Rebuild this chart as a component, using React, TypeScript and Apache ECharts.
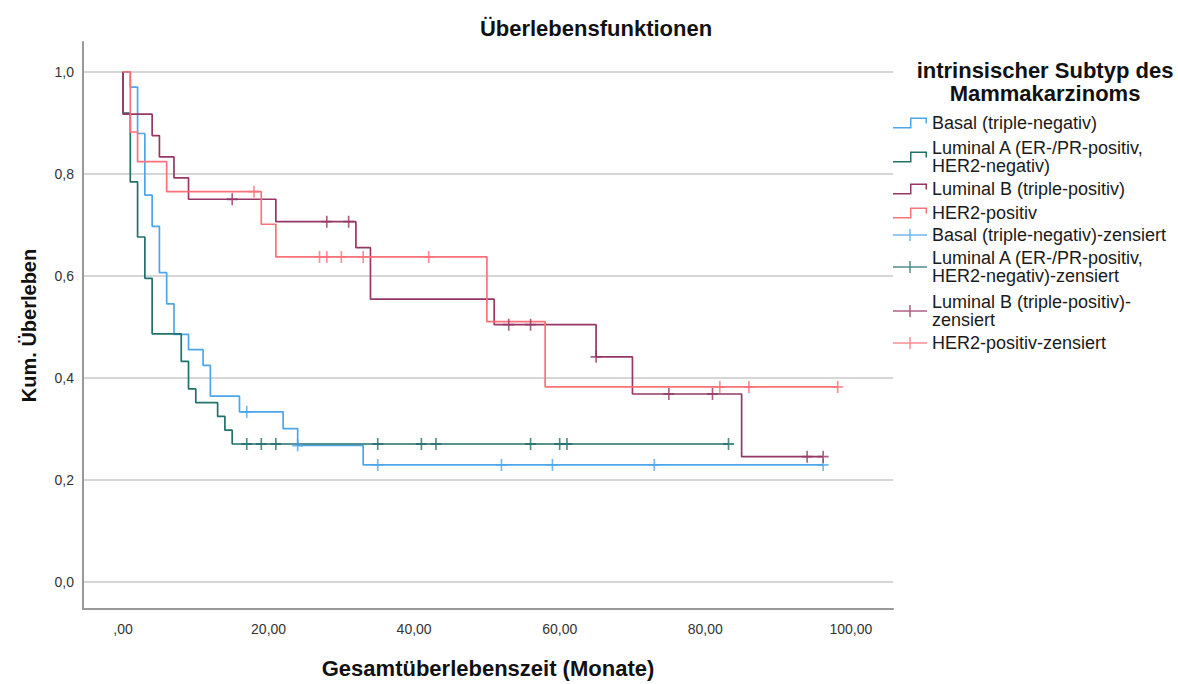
import { useEffect, useRef } from 'react';
import * as echarts from 'echarts';

// ---- data (Kaplan-Meier step values) ----
const seriesNames = [
  'Basal (triple-negativ)',
  'Luminal A (ER-/PR-positiv,\nHER2-negativ)',
  'Luminal B (triple-positiv)',
  'HER2-positiv',
];
const censorNames = [
  'Basal (triple-negativ)-zensiert',
  'Luminal A (ER-/PR-positiv,\nHER2-negativ)-zensiert',
  'Luminal B (triple-positiv)-\nzensiert',
  'HER2-positiv-zensiert',
];

const basalTimes = [0, 1, 2, 3, 4, 5, 6, 7, 9, 11, 12, 16, 22, 24, 33, 96.2];
const basalSurv = [1.0, 0.97, 0.879, 0.758, 0.697, 0.606, 0.545, 0.485, 0.455, 0.424, 0.364, 0.333, 0.3, 0.267, 0.229, 0.229];
const basalCensTimes = [17, 24, 35, 52, 59, 73, 96.2];
const basalCensSurv = [0.333, 0.267, 0.229, 0.229, 0.229, 0.229, 0.229];

const lumATimes = [0, 0, 1, 2, 3, 4, 8, 9, 10, 13, 14, 15, 83.2];
const lumASurv = [1.0, 0.919, 0.784, 0.676, 0.595, 0.486, 0.432, 0.378, 0.351, 0.324, 0.297, 0.27, 0.27];
const lumACensTimes = [17, 19, 21, 35, 41, 43, 56, 60, 61, 83.2];
const lumACensSurv = [0.27, 0.27, 0.27, 0.27, 0.27, 0.27, 0.27, 0.27, 0.27, 0.27];

const lumBTimes = [0, 0, 4, 5, 7, 9, 21, 32, 34, 51, 65, 70, 85, 96.2];
const lumBSurv = [1.0, 0.917, 0.875, 0.833, 0.792, 0.75, 0.706, 0.655, 0.554, 0.504, 0.441, 0.368, 0.245, 0.245];
const lumBCensTimes = [15, 28, 31, 53, 56, 65, 75, 81, 94, 96.2];
const lumBCensSurv = [0.75, 0.706, 0.706, 0.504, 0.504, 0.441, 0.368, 0.368, 0.245, 0.245];

const her2Times = [0, 1, 2, 6, 19, 21, 50, 58, 98.2];
const her2Surv = [1.0, 0.882, 0.824, 0.765, 0.701, 0.637, 0.51, 0.382, 0.382];
const her2CensTimes = [18, 27, 28, 30, 33, 42, 82, 86, 98.2];
const her2CensSurv = [0.765, 0.637, 0.637, 0.637, 0.637, 0.637, 0.382, 0.382, 0.382];

const xTicks = [0, 20, 40, 60, 80, 100];
const yTicks = [0, 0.2, 0.4, 0.6, 0.8, 1.0];

const colors = ['#4ea6ea', '#22706a', '#973766', '#fb727a'];

const FONT = '"Liberation Sans", Arial, sans-serif';
const STEP_ICON = 'path://M0,9.5H17V0H34V6H32.5V1.5H18.5V11H0Z';
const CROSS_ICON = 'path://M0,5.25H34V6.75H0Z M16.25,0H17.75V12H16.25Z';
const CROSS_MARK = 'path://M0,4.25H10V5.75H0Z M4.25,0H5.75V10H4.25Z';

const lineData = [
  [basalTimes, basalSurv],
  [lumATimes, lumASurv],
  [lumBTimes, lumBSurv],
  [her2Times, her2Surv],
];
const censData = [
  [basalCensTimes, basalCensSurv],
  [lumACensTimes, lumACensSurv],
  [lumBCensTimes, lumBCensSurv],
  [her2CensTimes, her2CensSurv],
];

// legend rows: top positions
const lineLegendTops = [114, 139, 180, 204];
const censLegendTops = [226, 249, 293, 334];

function fmtX(v: number) {
  if (v === 0) return ',00';
  return v.toFixed(2).replace('.', ',');
}
function fmtY(v: number) {
  return v.toFixed(1).replace('.', ',');
}

export default function App() {
  const ref = useRef<HTMLDivElement>(null);
  useEffect(() => {
    const chart = echarts.init(ref.current!, undefined, { renderer: 'svg' });
    const series: any[] = [];
    lineData.forEach(([t, s], i) => {
      series.push({
        name: seriesNames[i],
        type: 'line',
        step: 'end',
        symbol: 'none',
        color: colors[i],
        lineStyle: { color: colors[i], width: 1.7 },
        data: t.map((x, k) => [x, s[k]]),
        z: 2 + i,
      });
    });
    censData.forEach(([t, s], i) => {
      series.push({
        name: censorNames[i],
        type: 'scatter',
        symbol: CROSS_MARK,
        symbolSize: [11, 12],
        color: colors[i],
        itemStyle: { color: colors[i] },
        data: t.map((x, k) => [x, s[k]]),
        z: 10 + i,
      });
    });

    const textStyle = { fontFamily: FONT, fontSize: 18, lineHeight: 18, color: '#1a1a1a' };
    const legends: any[] = [];
    seriesNames.forEach((n, i) => {
      legends.push({
        left: 893,
        top: lineLegendTops[i],
        orient: 'vertical',
        padding: 0,
        itemWidth: 34,
        itemHeight: 11,
        selectedMode: false,
        data: [{ name: n, icon: STEP_ICON }],
        textStyle,
      });
    });
    censorNames.forEach((n, i) => {
      legends.push({
        left: 893,
        top: censLegendTops[i],
        orient: 'vertical',
        padding: 0,
        itemWidth: 34,
        itemHeight: 12,
        selectedMode: false,
        data: [{ name: n, icon: CROSS_ICON }],
        textStyle,
      });
    });

    chart.setOption({
      animation: false,
      backgroundColor: '#ffffff',
      title: [
        {
          text: 'Überlebensfunktionen',
          left: 591,
          top: 12,
          textAlign: 'center',
          textStyle: { fontFamily: FONT, fontSize: 22, fontWeight: 'bold', color: '#111' },
        },
        {
          text: 'intrinsischer Subtyp des\nMammakarzinoms',
          left: 1040,
          top: 54,
          textAlign: 'center',
          textStyle: { fontFamily: FONT, fontSize: 22, fontWeight: 'bold', color: '#111', lineHeight: 23 },
        },
      ],
      legend: legends,
      grid: { left: 83, top: 42, right: 285, bottom: 72, containLabel: false },
      xAxis: {
        type: 'value',
        min: -5.5,
        max: 105.8,
        name: 'Gesamtüberlebenszeit (Monate)',
        nameLocation: 'middle',
        nameGap: 48,
        nameTextStyle: { fontFamily: FONT, fontSize: 22, fontWeight: 'bold', color: '#111' },
        axisLine: { show: true, onZero: false, lineStyle: { color: '#999', width: 2 } },
        axisTick: { show: false, customValues: xTicks },
        axisLabel: {
          customValues: xTicks,
          formatter: fmtX,
          fontFamily: FONT,
          fontSize: 14,
          color: '#333',
          margin: 13,
        },
        splitLine: { show: false },
      },
      yAxis: {
        type: 'value',
        min: -0.0537,
        max: 1.0585,
        name: 'Kum. Überleben',
        nameLocation: 'middle',
        nameGap: 44,
        nameTextStyle: { fontFamily: FONT, fontSize: 20, fontWeight: 'bold', color: '#111' },
        axisLine: { show: true, onZero: false, lineStyle: { color: '#999', width: 2 } },
        axisTick: { show: false, customValues: yTicks },
        axisLabel: {
          customValues: yTicks,
          formatter: fmtY,
          fontFamily: FONT,
          fontSize: 14,
          color: '#333',
          margin: 9,
        },
        splitLine: { show: true, lineStyle: { color: '#d6d6d6', width: 2 } },
      },
      series,
    });
    return () => chart.dispose();
  }, []);
  return <div ref={ref} style={{ position: 'fixed', left: 0, top: 0, width: 1178, height: 684 }} />;
}
